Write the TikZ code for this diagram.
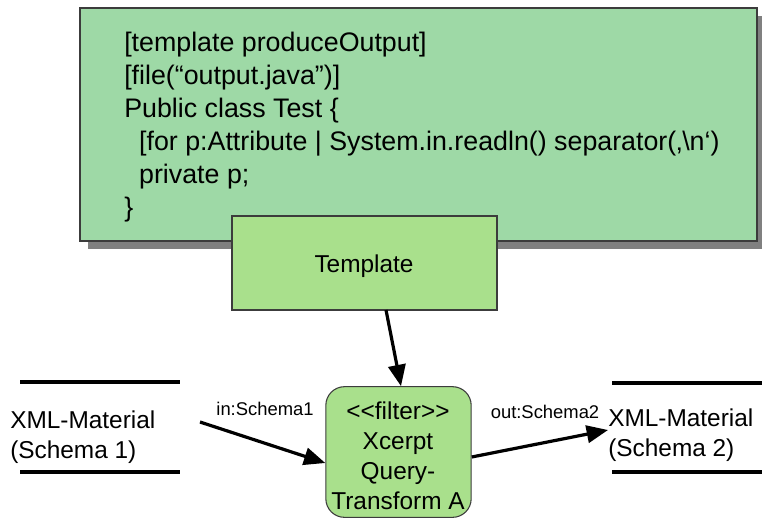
\documentclass[tikz,border=0pt]{standalone}
\usepackage{fontspec}
\setmainfont{Liberation Sans}
\usetikzlibrary{arrows.meta}
\definecolor{bigfill}{RGB}{158,217,166}
\definecolor{boxfill}{RGB}{169,224,140}
\definecolor{shadowgray}{RGB}{128,128,128}
\definecolor{edgegray}{RGB}{60,60,60}
\tikzset{
  px/.style={x=0.75pt,y=-0.75pt},
  conn/.style={line width=2.4pt,-{Triangle[length=16pt,width=13pt]}},
  storeline/.style={line width=2.4pt},
  codetext/.style={font=\fontsize{20.1}{24.7}\selectfont},
  maintext/.style={font=\fontsize{18.3}{22.5}\selectfont},
  smalltext/.style={font=\fontsize{13.8}{15}\selectfont},
}
\begin{document}
\begin{tikzpicture}[px]
\useasboundingbox (0,0) rectangle (762,519);
% big code box
\fill[shadowgray] (88,16) rectangle (770,249);
\draw[edgegray,fill=bigfill,line width=0.8pt] (80,8) rectangle (757,241);
\node[codetext,anchor=north west,align=left,inner sep=0pt] (code) at (124,32) {%
{[}template produceOutput{]}\\
{[}file(“output.java”){]}\\
Public class Test \{\\
\ \ {[}for p:Attribute | System.in.readln() separator(‚\textbackslash n‘)\\
\ \ private p;\\
\}};
% template box
\node[draw=edgegray,fill=boxfill,line width=0.8pt,minimum width=198.75pt,minimum height=70.5pt,inner sep=0pt] (tpl) at (364.5,263) {};
\node[maintext] (tpllbl) at (364,266) {Template};
\coordinate (tplbot) at (386,310);
% filter box
\node[draw=edgegray,fill=boxfill,line width=0.8pt,rounded corners=14pt,minimum width=109pt,minimum height=98pt,inner sep=0pt] (filter) at (398.5,452) {};
\node[maintext,align=center,inner sep=0pt] (filterlbl) at (398,456) {\textless\kern0pt\textless\kern0pt filter\textgreater\kern0pt\textgreater\\Xcerpt\\Query-\\Transform A};
% left store
\draw[storeline] (20,382) -- (180,382);
\draw[storeline] (20,472) -- (180,472);
\node[maintext,anchor=west,align=left,inner sep=0pt] (xml1) at (10,437) {XML-Material\\(Schema 1)};
\coordinate (instart) at (200,422);
% right store
\draw[storeline] (612,383) -- (762,383);
\draw[storeline] (612,472) -- (762,472);
\node[maintext,anchor=west,align=left,inner sep=0pt] (xml2) at (608,435) {XML-Material\\(Schema 2)};
% connectors
\draw[conn] (tplbot) -- (filter.north -| 401,0);
\draw[conn] (instart) -- (filter.west |- 0,463);
\draw[conn] (filter.east |- 0,457) -- (xml2.west |- 0,430);
\node[smalltext] (inlbl) at (265,409) {in:Schema1};
\node[smalltext] (outlbl) at (545,412) {out:Schema2};
\end{tikzpicture}
\end{document}
